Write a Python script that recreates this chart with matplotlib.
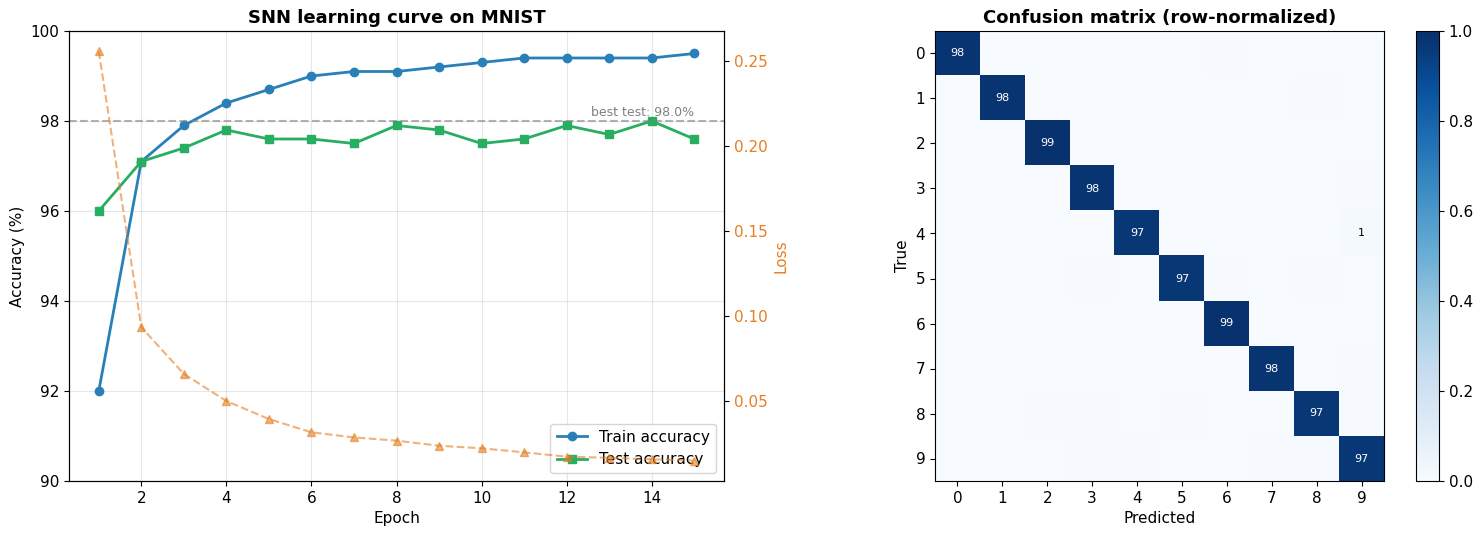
import numpy as np
import matplotlib
matplotlib.use("Agg")
import matplotlib.pyplot as plt

plt.rcParams["xtick.labelsize"] = 11
plt.rcParams["ytick.labelsize"] = 11
plt.rcParams["axes.labelsize"] = 11

epochs = list(range(1, 16))
train_acc = [92.0, 97.1, 97.9, 98.4, 98.7, 99.0, 99.1, 99.1, 99.2, 99.3, 99.4, 99.4, 99.4, 99.4, 99.5]
test_acc = [96.0, 97.1, 97.4, 97.8, 97.6, 97.6, 97.5, 97.9, 97.8, 97.5, 97.6, 97.9, 97.7, 98.0, 97.6]
loss = [0.2555, 0.0934, 0.0659, 0.0500, 0.0394, 0.0316, 0.0286, 0.0267, 0.0237, 0.0222,
        0.0198, 0.0173, 0.0166, 0.0157, 0.0150]

classes = [str(i) for i in range(10)]
diag = [0.98, 0.98, 0.99, 0.98, 0.97, 0.97, 0.99, 0.98, 0.97, 0.97]
# off-diagonal (row, col, value) entries
offdiag = [
    (0, 6, 0.004), (0, 2, 0.003), (0, 5, 0.003), (0, 7, 0.002), (0, 9, 0.003), (0, 3, 0.002), (0, 8, 0.003),
    (1, 8, 0.004), (1, 2, 0.003), (1, 7, 0.003), (1, 5, 0.002), (1, 3, 0.002), (1, 6, 0.002), (1, 4, 0.002),
    (2, 8, 0.002), (2, 3, 0.002), (2, 7, 0.002), (2, 1, 0.001), (2, 0, 0.001), (2, 4, 0.001), (2, 6, 0.001),
    (3, 9, 0.004), (3, 5, 0.003), (3, 2, 0.003), (3, 8, 0.003), (3, 7, 0.003), (3, 0, 0.001), (3, 6, 0.001),
    (4, 9, 0.012), (4, 6, 0.003), (4, 2, 0.002), (4, 7, 0.002), (4, 8, 0.003),
    (5, 3, 0.004), (5, 8, 0.004), (5, 6, 0.004), (5, 9, 0.003), (5, 4, 0.003), (5, 0, 0.003), (5, 2, 0.003),
    (5, 1, 0.002), (5, 7, 0.002),
    (6, 4, 0.003), (6, 5, 0.003), (6, 0, 0.002), (6, 2, 0.001), (6, 1, 0.001),
    (7, 2, 0.003), (7, 3, 0.003), (7, 9, 0.004), (7, 4, 0.003), (7, 1, 0.003), (7, 0, 0.002), (7, 8, 0.002),
    (8, 3, 0.004), (8, 5, 0.004), (8, 4, 0.003), (8, 9, 0.004), (8, 2, 0.004), (8, 6, 0.003), (8, 0, 0.003),
    (8, 7, 0.002), (8, 1, 0.003),
    (9, 4, 0.004), (9, 7, 0.004), (9, 3, 0.004), (9, 8, 0.004), (9, 5, 0.003), (9, 6, 0.003), (9, 0, 0.003),
    (9, 2, 0.003), (9, 1, 0.002),
]

cm = np.zeros((10, 10))
for i, d in enumerate(diag):
    cm[i, i] = d
for r, c, v in offdiag:
    cm[r, c] = v

fig = plt.figure(figsize=(14.82, 5.36), dpi=100)

ax1 = fig.add_axes([69/1482, 55/536, 655/1482, 450/536])
c_train = "#2980b9"
c_test = "#27ae60"
c_loss = "#e67e22"

ax1.plot(epochs, train_acc, "-o", color=c_train, lw=2, ms=6, label="Train accuracy")
ax1.plot(epochs, test_acc, "-s", color=c_test, lw=2, ms=6, label="Test accuracy")
best = max(test_acc)
ax1.axhline(best, color="gray", ls="--", alpha=0.6, lw=1.5)
ax1.text(epochs[-1], best + 0.05, f"best test: {best:.1f}%", color="gray",
         fontsize=9, ha="right", va="bottom")
ax1.set_ylim(90, 100)
ax1.set_xlabel("Epoch")
ax1.set_ylabel("Accuracy (%)")
ax1.set_title("SNN learning curve on MNIST", fontsize=13, fontweight="bold")
ax1.grid(True, alpha=0.3)
ax1.legend(loc="lower right", fontsize=11)

ax2 = ax1.twinx()
ax2.plot(epochs, loss, "--^", color=c_loss, alpha=0.6, lw=1.5, ms=6, label="Loss")
ax2.set_ylabel("Loss", color=c_loss)
ax2.tick_params(axis="y", labelcolor=c_loss)

ax3 = fig.add_axes([935/1482, 55/536, 449/1482, 450/536])
im = ax3.imshow(cm, cmap="Blues", vmin=0, vmax=1, aspect="auto")
for i in range(10):
    for j in range(10):
        v = cm[i, j]
        pct = int(round(v * 100))
        if pct >= 1:
            ax3.text(j, i, str(pct), ha="center", va="center", fontsize=8,
                     color="white" if v > 0.5 else "black")
ax3.set_xticks(range(10))
ax3.set_yticks(range(10))
ax3.set_xticklabels(classes)
ax3.set_yticklabels(classes)
ax3.set_xlabel("Predicted")
ax3.set_ylabel("True")
ax3.set_title("Confusion matrix (row-normalized)", fontsize=13, fontweight="bold")

cax = fig.add_axes([1416/1482, 55/536, 23/1482, 450/536])
fig.colorbar(im, cax=cax)

fig.savefig("out.png", dpi=100)
